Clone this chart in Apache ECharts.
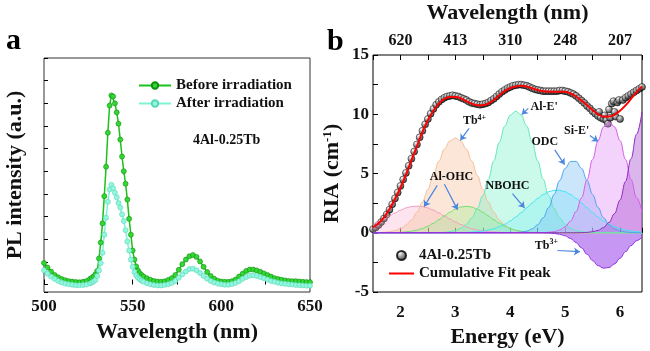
<!DOCTYPE html>
<html>
<head>
<meta charset="utf-8">
<script src="https://cdn.jsdelivr.net/npm/echarts@6/dist/echarts.min.js"></script>
<style>
  html, body { margin: 0; padding: 0; background: #fff; }
  #chart { width: 650px; height: 351px; }
</style>
</head>
<body>
<div id="chart"></div>
<script>
// ---- panel a: PL spectra ----
const plWave = [500, 502, 504, 506, 508, 510, 512, 514, 516, 518, 520, 522, 524, 526,
  527, 528, 529, 530, 531, 532, 533, 534, 535, 536, 537, 538, 539, 540, 541, 542, 543, 544, 545,
  546, 547, 548, 549, 550, 551, 552, 553, 554, 555, 556,
  558, 560, 562, 564, 566, 568, 570, 572, 574, 576, 578, 580, 582, 584, 586, 588, 590, 592, 594, 596,
  598, 600, 602, 604, 606, 608, 610, 612, 614, 616, 618, 620, 622, 624, 626, 628, 630, 632, 634, 636,
  638, 640, 642, 644, 646, 648, 650]
const plBefore = [0.95, 0.75, 0.57, 0.42, 0.32, 0.24, 0.19, 0.15, 0.13, 0.11, 0.10, 0.12, 0.16, 0.25,
  0.30, 0.36, 0.45, 0.60, 1.15, 1.85, 2.70, 3.90, 5.20, 6.70, 7.90, 8.35, 8.30, 8.00, 7.60, 7.10, 6.40, 5.65, 5.00,
  4.45, 3.75, 2.90, 2.20, 1.50, 1.10, 0.80, 0.62, 0.50, 0.42, 0.36,
  0.28, 0.21, 0.16, 0.13, 0.12, 0.14, 0.20, 0.28, 0.42, 0.65, 0.90, 1.10, 1.25, 1.30, 1.22, 1.02, 0.78, 0.55, 0.38, 0.25,
  0.17, 0.13, 0.12, 0.12, 0.15, 0.22, 0.35, 0.48, 0.60, 0.66, 0.66, 0.62, 0.56, 0.49, 0.42, 0.35, 0.28, 0.24, 0.21, 0.18,
  0.16, 0.15, 0.15, 0.13, 0.12, 0.11, 0.10]
const plAfter = [0.63, 0.48, 0.35, 0.25, 0.16, 0.09, 0.04, 0.01, -0.01, -0.03, -0.03, -0.02, 0.00, 0.05,
  0.09, 0.14, 0.20, 0.38, 0.62, 0.95, 1.40, 2.20, 2.95, 3.65, 4.20, 4.40, 4.25, 4.05, 3.85, 3.60, 3.40, 3.10, 2.80,
  2.40, 1.90, 1.50, 1.10, 0.78, 0.55, 0.40, 0.30, 0.23, 0.17, 0.13,
  0.06, 0.01, -0.02, -0.04, -0.04, -0.02, 0.01, 0.07, 0.16, 0.30, 0.45, 0.58, 0.68, 0.70, 0.63, 0.51, 0.38, 0.26, 0.16, 0.09,
  0.04, 0.01, -0.01, -0.01, 0.02, 0.07, 0.15, 0.25, 0.33, 0.39, 0.41, 0.38, 0.33, 0.28, 0.22, 0.16, 0.12, 0.08, 0.05, 0.03,
  0.01, 0.00, -0.02, -0.03, -0.04, -0.05, -0.05]

// ---- panel b: RIA and fitted bands ----
const bandE = [1.5, 1.6, 1.7, 1.8, 1.9, 2.0, 2.1, 2.2, 2.3, 2.4, 2.5, 2.6, 2.7, 2.8, 2.9, 3.0, 3.1, 3.2, 3.3, 3.4,
  3.5, 3.6, 3.7, 3.8, 3.9, 4.0, 4.1, 4.2, 4.3, 4.4, 4.5, 4.6, 4.7, 4.8, 4.9, 5.0, 5.1, 5.2, 5.3, 5.4,
  5.5, 5.6, 5.7, 5.8, 5.9, 6.0, 6.1, 6.2, 6.3, 6.4]
const bandAlOhc1 = [0.69, 0.91, 1.16, 1.42, 1.67, 1.91, 2.09, 2.21, 2.25, 2.21, 2.09, 1.91, 1.67, 1.42, 1.16, 0.91, 0.69, 0.50, 0.35, 0.24,
  0.16, 0.10, 0.06, 0.04, 0.02, 0.01, 0, 0, 0, 0, 0, 0, 0, 0, 0, 0, 0, 0, 0, 0,
  0, 0, 0, 0, 0, 0, 0, 0, 0, 0]
const bandTb4 = [0.01, 0.02, 0.04, 0.09, 0.18, 0.35, 0.64, 1.08, 1.73, 2.60, 3.66, 4.85, 6.04, 7.06, 7.75, 8.00, 7.75, 7.06, 6.04, 4.85,
  3.66, 2.60, 1.73, 1.08, 0.64, 0.35, 0.18, 0.09, 0.04, 0.02, 0.01, 0, 0, 0, 0, 0, 0, 0, 0, 0,
  0, 0, 0, 0, 0, 0, 0, 0, 0, 0]
const bandAlOhc2 = [0, 0, 0, 0.01, 0.02, 0.04, 0.07, 0.13, 0.22, 0.36, 0.56, 0.80, 1.10, 1.42, 1.73, 1.99, 2.17, 2.23, 2.17, 1.99,
  1.73, 1.42, 1.10, 0.80, 0.56, 0.36, 0.22, 0.13, 0.07, 0.04, 0.02, 0.01, 0, 0, 0, 0, 0, 0, 0, 0,
  0, 0, 0, 0, 0, 0, 0, 0, 0, 0]
const bandAlE = [0, 0, 0, 0, 0, 0, 0, 0, 0, 0, 0, 0.01, 0.02, 0.04, 0.09, 0.19, 0.38, 0.72, 1.25, 2.05,
  3.14, 4.51, 6.06, 7.63, 9.00, 9.93, 10.26, 9.93, 9.00, 7.63, 6.06, 4.51, 3.14, 2.05, 1.25, 0.72, 0.38, 0.19, 0.09, 0.04,
  0.02, 0.01, 0, 0, 0, 0, 0, 0, 0, 0]
const bandNbohc = [0, 0, 0, 0, 0, 0, 0, 0, 0, 0, 0, 0, 0, 0, 0, 0.01, 0.02, 0.03, 0.05, 0.09,
  0.14, 0.22, 0.34, 0.51, 0.72, 1.00, 1.32, 1.70, 2.10, 2.51, 2.90, 3.22, 3.46, 3.58, 3.58, 3.46, 3.22, 2.90, 2.51, 2.10,
  1.70, 1.32, 1.00, 0.72, 0.51, 0.34, 0.22, 0.14, 0.09, 0.05]
const bandOdc = [0, 0, 0, 0, 0, 0, 0, 0, 0, 0, 0, 0, 0, 0, 0, 0, 0, 0, 0, 0,
  0, 0, 0, 0, 0, 0.01, 0.02, 0.06, 0.14, 0.33, 0.68, 1.26, 2.13, 3.23, 4.41, 5.43, 6.02, 6.02, 5.43, 4.41,
  3.23, 2.13, 1.26, 0.68, 0.33, 0.14, 0.06, 0.02, 0.01, 0]
const bandSiE = [0, 0, 0, 0, 0, 0, 0, 0, 0, 0, 0, 0, 0, 0, 0, 0, 0, 0, 0, 0,
  0, 0, 0, 0, 0, 0, 0, 0, 0, 0, 0, 0.01, 0.04, 0.09, 0.23, 0.50, 0.99, 1.79, 2.97, 4.49,
  6.19, 7.78, 8.93, 9.35, 8.93, 7.78, 6.19, 4.49, 2.97, 1.79]
const bandUv = [0, 0, 0, 0, 0, 0, 0, 0, 0, 0, 0, 0, 0, 0, 0, 0, 0, 0, 0, 0,
  0, 0, 0, 0, 0, 0, 0, 0, 0, 0, 0, 0, 0, 0, 0, 0, 0, 0, 0.01, 0.03,
  0.09, 0.20, 0.44, 0.88, 1.62, 2.76, 4.33, 6.25, 8.31, 10.19]
const bandTb3 = [0, 0, 0, 0, 0, 0, 0, 0, 0, 0, 0, 0, 0, 0, 0, 0, 0, 0, 0, 0,
  0, 0, 0, 0, 0, 0, 0, 0, 0, 0, 0, -0.01, -0.02, -0.06, -0.13, -0.26, -0.49, -0.83, -1.28, -1.82,
  -2.35, -2.78, -2.99, -2.93, -2.63, -2.15, -1.60, -1.09, -0.67, -0.38]
const fitPeak = [0.45, 0.80, 1.30, 2.00, 2.85, 3.80, 4.90, 6.10, 7.30, 8.50, 9.50, 10.30, 10.90, 11.30, 11.45, 11.45, 11.35, 11.10, 10.90, 10.75,
  10.75, 10.90, 11.20, 11.60, 11.95, 12.20, 12.35, 12.40, 12.35, 12.20, 12.05, 11.95, 11.90, 11.90, 11.90, 11.90, 11.75, 11.50, 11.15, 10.75,
  10.35, 10.00, 9.80, 9.80, 9.95, 10.30, 10.75, 11.30, 11.85, 12.35]

const riaE = [1.50, 1.55, 1.60, 1.65, 1.70, 1.75, 1.80, 1.85, 1.90, 1.95, 2.00, 2.05, 2.10, 2.15, 2.20, 2.25, 2.30, 2.35, 2.40, 2.45,
  2.50, 2.55, 2.60, 2.65, 2.70, 2.75, 2.80, 2.85, 2.90, 2.95, 3.00, 3.05, 3.10, 3.15, 3.20, 3.25, 3.30, 3.35, 3.40, 3.45,
  3.50, 3.55, 3.60, 3.65, 3.70, 3.75, 3.80, 3.85, 3.90, 3.95, 4.00, 4.05, 4.10, 4.15, 4.20, 4.25, 4.30, 4.35, 4.40, 4.45,
  4.50, 4.55, 4.60, 4.65, 4.70, 4.75, 4.80, 4.85, 4.90, 4.95, 5.00, 5.05, 5.10, 5.15, 5.20, 5.25, 5.30, 5.35, 5.40, 5.45,
  5.50, 5.55, 5.60, 5.62, 5.65, 5.70, 5.72, 5.75, 5.78, 5.80, 5.82, 5.85, 5.88, 5.90, 5.92, 5.95, 5.98, 6.00, 6.05, 6.10,
  6.15, 6.20, 6.25, 6.30, 6.35, 6.40]
const riaVal = [0.30, 0.45, 0.65, 0.90, 1.20, 1.55, 1.95, 2.40, 2.90, 3.40, 3.95, 4.50, 5.05, 5.65, 6.25, 6.85, 7.45, 8.05, 8.60, 9.15,
  9.60, 10.05, 10.45, 10.80, 11.05, 11.25, 11.40, 11.50, 11.55, 11.60, 11.55, 11.50, 11.40, 11.30, 11.20, 11.05, 10.95, 10.90, 10.85, 10.80,
  10.85, 10.90, 11.00, 11.15, 11.30, 11.50, 11.70, 11.90, 12.05, 12.20, 12.30, 12.40, 12.45, 12.50, 12.50, 12.45, 12.40, 12.30, 12.20, 12.10,
  12.05, 12.00, 11.95, 11.95, 11.95, 11.95, 11.95, 11.95, 12.00, 12.00, 11.95, 11.90, 11.80, 11.70, 11.55, 11.35, 11.15, 10.95, 10.70, 10.50,
  10.25, 10.05, 9.85, 10.20, 9.70, 9.60, 9.90, 9.50, 9.20, 10.40, 9.70, 10.90, 11.10, 10.20, 9.80, 11.00, 11.20, 9.60, 11.20, 11.40,
  11.55, 11.70, 11.85, 12.00, 12.15, 12.30]

const topTickE = [2, 3, 4, 5, 6]
const topTickNm = ['620', '413', '310', '248', '207']

// band labels and arrows (energy, RIA)
const bandNotes = [
  { text: '{m|Tb}{s|4+}', at: [3.35, 9.4], arrow: [3.25, 8.8, 3.09, 7.8] },
  { text: "{m|Al-E'}", at: [4.62, 10.65], arrow: [4.33, 10.5, 4.21, 9.97] },
  { text: '{m|Al-OHC}', at: [2.93, 4.75], arrow: [2.67, 4.0, 2.43, 2.2] },
  { text: '', at: [2.93, 4.75], arrow: [2.80, 4.1, 3.04, 1.95] },
  { text: '{m|NBOHC}', at: [3.95, 3.97], arrow: [4.04, 3.3, 4.26, 2.1] },
  { text: '{m|ODC}', at: [4.63, 7.7], arrow: [4.81, 7.0, 4.99, 5.75] },
  { text: "{m|Si-E'}", at: [5.21, 8.62], arrow: [5.45, 8.2, 5.6, 7.7] },
  { text: '{m|Tb}{s|3+}', at: [4.66, -1.1], arrow: [4.86, -1.5, 5.27, -1.6] },
]

const FONT = 'Liberation Serif'
const chart = echarts.init(document.getElementById('chart'))
const pairs = (xs, ys) => xs.map((x, i) => [x, ys[i]])

const labelText = { fontFamily: FONT, fontWeight: 'bold', fontSize: 17, color: '#111' }
const titleText = { fontFamily: FONT, fontWeight: 'bold', fontSize: 22, color: '#111' }
const tickIn = { inside: true, length: 5, lineStyle: { color: '#000', width: 1 } }

function band(name, values, line, fill) {
  return {
    name, type: 'line', xAxisIndex: 1, yAxisIndex: 1,
    data: pairs(bandE, values),
    smooth: 0.4, smoothMonotone: 'x', symbol: 'none', silent: true,
    lineStyle: { color: line, width: 1 },
    areaStyle: { color: fill },
  }
}

const ball = new echarts.graphic.RadialGradient(0.35, 0.3, 0.75, [
  { offset: 0, color: '#ffffff' },
  { offset: 0.35, color: '#9a9a9a' },
  { offset: 1, color: '#000000' },
])

chart.setOption({
  animation: false,
  textStyle: { fontFamily: FONT },
  graphic: [
    { type: 'text', left: 6, top: 26, style: { text: 'a', font: 'bold 30px "Liberation Serif"', fill: '#000' } },
    { type: 'text', left: 327, top: 27, style: { text: 'b', font: 'bold 30px "Liberation Serif"', fill: '#000' } },
    { type: 'text', left: 193, top: 133, style: { text: '4Al-0.25Tb', font: 'bold 14px "Liberation Serif"', fill: '#111' } },
  ],
  legend: [
    {
      data: ['Before irradiation', 'After irradiation'],
      orient: 'vertical', left: 133, top: 73, itemGap: 3,
      itemWidth: 32, itemHeight: 8, selectedMode: false,
      textStyle: { fontFamily: FONT, fontWeight: 'bold', fontSize: 15, color: '#111' },
    },
    {
      data: [
        { name: '4Al-0.25Tb' },
        { name: 'Cumulative Fit peak', icon: 'path://M0,0 L30,0 L30,2.4 L0,2.4 Z' },
      ],
      orient: 'vertical', left: 384, top: 243, itemGap: 3,
      itemWidth: 25, itemHeight: 9, selectedMode: false,
      textStyle: { fontFamily: FONT, fontWeight: 'bold', fontSize: 15, color: '#111' },
    },
  ],
  grid: [
    { left: 44, width: 266, top: 58, height: 234, outerBoundsMode: 'none', containLabel: false,
      show: true, borderColor: '#333', borderWidth: 1 },
    { left: 373, width: 269, top: 55, height: 237, outerBoundsMode: 'none', containLabel: false,
      show: true, borderColor: '#000', borderWidth: 1 },
  ],
  xAxis: [
    {
      gridIndex: 0, type: 'value', min: 500, max: 650, interval: 50,
      name: 'Wavelength (nm)', nameLocation: 'middle', nameGap: 29, nameTextStyle: titleText,
      axisLine: { show: false }, axisTick: tickIn,
      minorTick: { show: true, splitNumber: 2, length: 5, lineStyle: { color: '#000' } },
      splitLine: { show: false },
      axisLabel: { ...labelText, margin: 6 },
    },
    {
      gridIndex: 1, type: 'value', min: 1.5, max: 6.4, interval: 0.5,
      name: 'Energy (eV)', nameLocation: 'middle', nameGap: 33, nameTextStyle: titleText,
      axisLine: { show: false }, axisTick: tickIn, splitLine: { show: false },
      axisLabel: { ...labelText, margin: 12, formatter: v => (Math.abs(v - Math.round(v)) < 1e-6 ? String(Math.round(v)) : '') },
    },
    {
      gridIndex: 1, type: 'value', position: 'top', min: 1.5, max: 6.4, interval: 0.5,
      name: 'Wavelength (nm)', nameLocation: 'middle', nameGap: 31, nameTextStyle: titleText,
      axisLine: { show: false }, axisTick: tickIn, splitLine: { show: false },
      axisLabel: {
        ...labelText, fontSize: 16, margin: 6,
        formatter: v => {
          const i = topTickE.findIndex(e => Math.abs(e - v) < 1e-6)
          return i >= 0 ? topTickNm[i] : ''
        },
      },
    },
  ],
  yAxis: [
    {
      gridIndex: 0, type: 'value', min: -0.33, max: 10, splitNumber: 10,
      name: 'PL intensity (a.u.)', nameLocation: 'middle', nameGap: 18, nameTextStyle: titleText,
      axisLine: { show: false },
      axisTick: { ...tickIn, length: 4 },
      axisLabel: { show: false },
      splitLine: { show: false },
    },
    {
      gridIndex: 1, type: 'value', min: -5, max: 15, interval: 5,
      name: '{a|RIA (cm}{s|-1}{a|)}', nameLocation: 'middle', nameGap: 29,
      nameTextStyle: {
        rich: {
          a: titleText,
          s: { fontFamily: FONT, fontWeight: 'bold', fontSize: 13, color: '#111', padding: [0, 0, 10, 0] },
        },
      },
      axisLine: { show: false }, axisTick: tickIn,
      minorTick: { show: true, splitNumber: 2, length: 5, lineStyle: { color: '#000' } },
      splitLine: { show: false },
      axisLabel: { ...labelText, margin: 4 },
    },
  ],
  series: [
    {
      name: 'Before irradiation', type: 'line', xAxisIndex: 0, yAxisIndex: 0,
      data: pairs(plWave, plBefore), symbol: 'circle', symbolSize: 5,
      lineStyle: { color: '#1ac21a', width: 1.5 },
      itemStyle: { color: '#34d634', borderColor: '#0f8f0f', borderWidth: 0.6 },
    },
    {
      name: 'After irradiation', type: 'line', xAxisIndex: 0, yAxisIndex: 0,
      data: pairs(plWave, plAfter), symbol: 'circle', symbolSize: 5,
      lineStyle: { color: '#7ef2d4', width: 1.5 },
      itemStyle: { color: '#93f6de', borderColor: '#55d8b6', borderWidth: 0.6 },
    },
    band('Al-OHC 1', bandAlOhc1, '#f59ac4', 'rgba(250,170,205,0.45)'),
    band('Tb4+', bandTb4, '#f3bf99', 'rgba(245,190,150,0.55)'),
    band('Al-OHC 2', bandAlOhc2, '#6fe06f', 'rgba(140,240,130,0.4)'),
    band("Al-E'", bandAlE, '#66e6bd', 'rgba(120,240,200,0.55)'),
    band('NBOHC', bandNbohc, '#3fe6f2', 'rgba(120,235,250,0.45)'),
    band('ODC', bandOdc, '#4da3ee', 'rgba(120,190,245,0.55)'),
    band("Si-E'", bandSiE, '#d65ce8', 'rgba(225,140,245,0.55)'),
    band('UV band', bandUv, '#8d2bbf', 'rgba(170,80,210,0.6)'),
    band('Tb3+', bandTb3, '#9030e0', 'rgba(155,70,235,0.8)'),
    {
      name: '4Al-0.25Tb', type: 'scatter', xAxisIndex: 1, yAxisIndex: 1,
      data: pairs(riaE, riaVal), symbol: 'circle', symbolSize: 7,
      itemStyle: { color: ball, borderColor: '#000', borderWidth: 0.6 },
    },
    {
      name: 'Cumulative Fit peak', type: 'line', xAxisIndex: 1, yAxisIndex: 1,
      data: pairs(bandE, fitPeak), smooth: 0.4, symbol: 'none',
      lineStyle: { color: '#ff0000', width: 2 }, itemStyle: { color: '#ff0000' },
    },
    {
      name: 'notes', type: 'scatter', xAxisIndex: 1, yAxisIndex: 1, data: [], z: 10,
      markLine: {
        silent: true, animation: false, symbol: ['none', 'arrow'], symbolSize: 6,
        lineStyle: { color: '#4a86e0', width: 1.2, type: 'solid' },
        label: { show: false },
        data: bandNotes.map(n => [{ coord: [n.arrow[0], n.arrow[1]] }, { coord: [n.arrow[2], n.arrow[3]] }]),
      },
      markPoint: {
        silent: true, animation: false, symbol: 'circle', symbolSize: 0,
        label: {
          show: true, position: 'inside',
          rich: {
            m: { fontFamily: FONT, fontWeight: 'bold', fontSize: 12, color: '#111' },
            s: { fontFamily: FONT, fontWeight: 'bold', fontSize: 8, color: '#111', padding: [0, 0, 7, 0] },
          },
        },
        data: bandNotes.filter(n => n.text).map(n => ({ coord: n.at, label: { formatter: n.text } })),
      },
    },
  ],
})
</script>
</body>
</html>
